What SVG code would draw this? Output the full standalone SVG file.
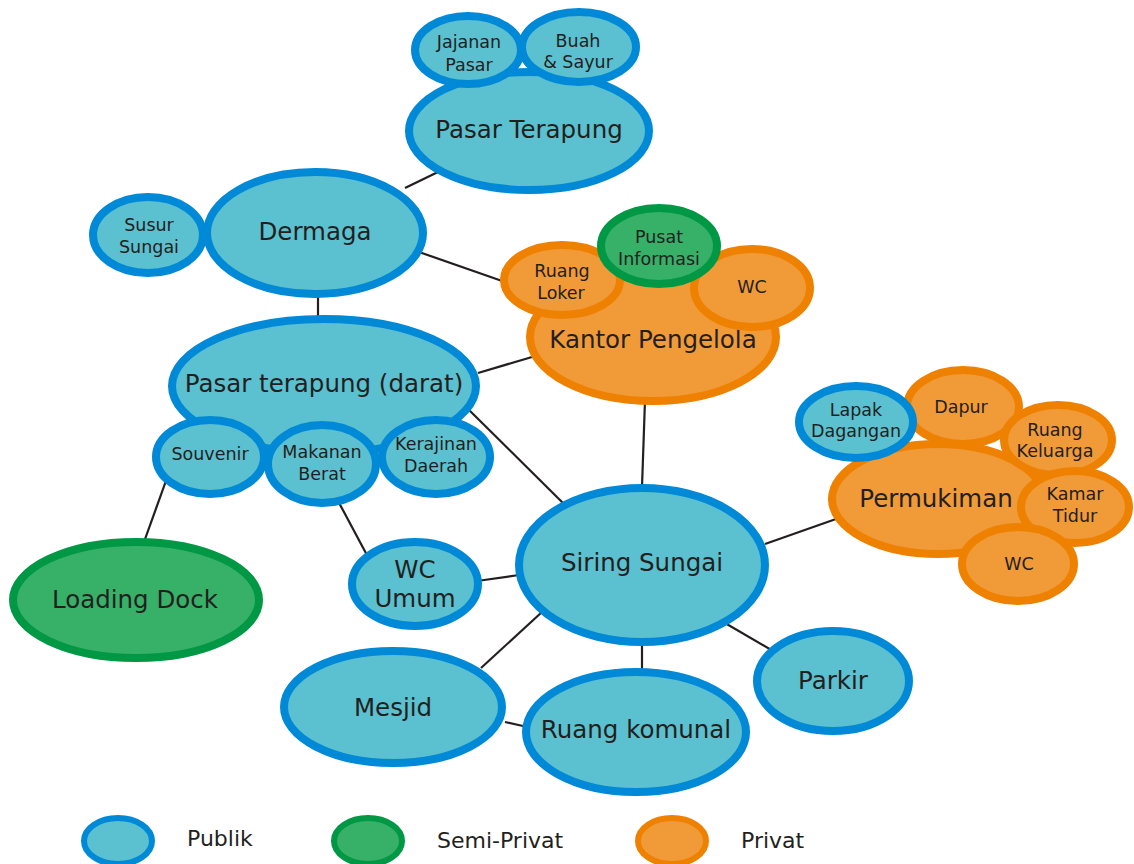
<svg xmlns="http://www.w3.org/2000/svg" width="1134" height="864" viewBox="0 0 1134 864">
  <style>
    .pub { fill: #5bc0cf; stroke: #0089d6; stroke-width: 8; }
    .semi { fill: #37b068; stroke: #009844; stroke-width: 8; }
    .priv { fill: #f19a38; stroke: #ef8100; stroke-width: 8; }
    .leg { stroke-width: 6; }
    text { font-family: "DejaVu Sans", "Liberation Sans", sans-serif; fill: #231f20; text-anchor: middle; }
    .big { font-size: 24.5px; }
    .sm { font-size: 17.5px; }
    .lg { font-size: 22px; text-anchor: start; }
    .conn line { stroke: #231f20; stroke-width: 2.2; }
  </style>

  <!-- connectors -->
  <g id="connectors" class="conn">
    <line x1="405" y1="188" x2="438" y2="172"/>
    <line x1="419" y1="252" x2="505" y2="282"/>
    <line x1="318" y1="293" x2="318" y2="320"/>
    <line x1="478" y1="373" x2="532" y2="357"/>
    <line x1="467" y1="408" x2="564" y2="504"/>
    <line x1="645" y1="400" x2="642" y2="487"/>
    <line x1="167" y1="478" x2="144" y2="542"/>
    <line x1="337" y1="499" x2="368" y2="557"/>
    <line x1="477" y1="581" x2="519" y2="575"/>
    <line x1="542" y1="612" x2="481" y2="668"/>
    <line x1="642" y1="644" x2="642" y2="672"/>
    <line x1="725" y1="623" x2="773" y2="651"/>
    <line x1="765" y1="544" x2="836" y2="519"/>
    <line x1="505" y1="722" x2="523" y2="726"/>
  </g>

  <!-- Pasar Terapung cluster -->
  <g id="pasar-terapung">
    <ellipse class="pub" cx="529" cy="131" rx="120" ry="59"/>
    <text class="big" x="529" y="138">Pasar Terapung</text>
  </g>
  <g id="jajanan-pasar">
    <ellipse class="pub" cx="468" cy="50" rx="53" ry="34"/>
    <text class="sm" x="469" y="48">Jajanan</text>
    <text class="sm" x="469" y="71">Pasar</text>
  </g>
  <g id="buah-sayur">
    <ellipse class="pub" cx="579" cy="47" rx="57" ry="35"/>
    <text class="sm" x="578" y="47">Buah</text>
    <text class="sm" x="578" y="68">&amp; Sayur</text>
  </g>

  <!-- Dermaga cluster -->
  <g id="susur-sungai">
    <ellipse class="pub" cx="148" cy="235" rx="55" ry="38"/>
    <text class="sm" x="149" y="231">Susur</text>
    <text class="sm" x="149" y="253">Sungai</text>
  </g>
  <g id="dermaga">
    <ellipse class="pub" cx="315" cy="233" rx="108" ry="61"/>
    <text class="big" x="315" y="240">Dermaga</text>
  </g>

  <!-- Kantor Pengelola cluster -->
  <g id="kantor-pengelola">
    <ellipse class="priv" cx="653" cy="337" rx="123" ry="64"/>
    <text class="big" x="653" y="348">Kantor Pengelola</text>
  </g>
  <g id="ruang-loker">
    <ellipse class="priv" cx="562" cy="280" rx="58" ry="35"/>
    <text class="sm" x="562" y="277">Ruang</text>
    <text class="sm" x="561" y="299">Loker</text>
  </g>
  <g id="wc-kantor">
    <ellipse class="priv" cx="752" cy="288" rx="58" ry="39"/>
    <text class="sm" x="752" y="293">WC</text>
  </g>
  <g id="pusat-informasi">
    <ellipse class="semi" cx="659" cy="246" rx="58" ry="38"/>
    <text class="sm" x="659" y="243">Pusat</text>
    <text class="sm" x="659" y="265">Informasi</text>
  </g>

  <!-- Pasar terapung (darat) cluster -->
  <g id="pasar-darat">
    <ellipse class="pub" cx="324" cy="386" rx="152" ry="67"/>
    <text class="big" x="324" y="392">Pasar terapung (darat)</text>
  </g>
  <g id="souvenir">
    <ellipse class="pub" cx="210" cy="457" rx="54" ry="37"/>
    <text class="sm" x="210" y="460">Souvenir</text>
  </g>
  <g id="kerajinan-daerah">
    <ellipse class="pub" cx="436" cy="457" rx="54" ry="37"/>
    <text class="sm" x="436" y="450">Kerajinan</text>
    <text class="sm" x="436" y="472">Daerah</text>
  </g>
  <g id="makanan-berat">
    <ellipse class="pub" cx="322" cy="464" rx="54" ry="39"/>
    <text class="sm" x="322" y="458">Makanan</text>
    <text class="sm" x="322" y="480">Berat</text>
  </g>

  <!-- Permukiman cluster -->
  <g id="permukiman">
    <ellipse class="priv" cx="938" cy="499" rx="106" ry="55"/>
    <text class="big" x="936" y="507">Permukiman</text>
  </g>
  <g id="dapur">
    <ellipse class="priv" cx="963" cy="407" rx="56" ry="37"/>
    <text class="sm" x="961" y="413">Dapur</text>
  </g>
  <g id="ruang-keluarga">
    <ellipse class="priv" cx="1058" cy="440" rx="54" ry="35"/>
    <text class="sm" x="1055" y="436">Ruang</text>
    <text class="sm" x="1055" y="457">Keluarga</text>
  </g>
  <g id="kamar-tidur">
    <ellipse class="priv" cx="1075" cy="507" rx="54" ry="36"/>
    <text class="sm" x="1075" y="500">Kamar</text>
    <text class="sm" x="1075" y="522">Tidur</text>
  </g>
  <g id="wc-permukiman">
    <ellipse class="priv" cx="1018" cy="564" rx="56" ry="37"/>
    <text class="sm" x="1019" y="570">WC</text>
  </g>
  <g id="lapak-dagangan">
    <ellipse class="pub" cx="856" cy="422" rx="57" ry="36"/>
    <text class="sm" x="856" y="416">Lapak</text>
    <text class="sm" x="856" y="437">Dagangan</text>
  </g>

  <!-- standalone nodes -->
  <g id="loading-dock">
    <ellipse class="semi" cx="136" cy="600" rx="123" ry="58"/>
    <text class="big" x="135" y="608">Loading Dock</text>
  </g>
  <g id="wc-umum">
    <ellipse class="pub" cx="415" cy="584" rx="63" ry="42"/>
    <text class="big" x="415" y="578">WC</text>
    <text class="big" x="415" y="607">Umum</text>
  </g>
  <g id="siring-sungai">
    <ellipse class="pub" cx="642" cy="565" rx="123" ry="77"/>
    <text class="big" x="642" y="571">Siring Sungai</text>
  </g>
  <g id="parkir">
    <ellipse class="pub" cx="833" cy="681" rx="76" ry="50"/>
    <text class="big" x="833" y="689">Parkir</text>
  </g>
  <g id="mesjid">
    <ellipse class="pub" cx="393" cy="707" rx="109" ry="56"/>
    <text class="big" x="393" y="716">Mesjid</text>
  </g>
  <g id="ruang-komunal">
    <ellipse class="pub" cx="636" cy="732" rx="110" ry="60"/>
    <text class="big" x="636" y="738">Ruang komunal</text>
  </g>

  <!-- legend -->
  <g id="legend">
    <ellipse class="pub leg" cx="118" cy="841" rx="34" ry="23"/>
    <text class="lg" x="187" y="846">Publik</text>
    <ellipse class="semi leg" cx="368" cy="841" rx="34" ry="23"/>
    <text class="lg" x="437" y="848">Semi-Privat</text>
    <ellipse class="priv leg" cx="672" cy="841" rx="34" ry="23"/>
    <text class="lg" x="741" y="848">Privat</text>
  </g>
</svg>
